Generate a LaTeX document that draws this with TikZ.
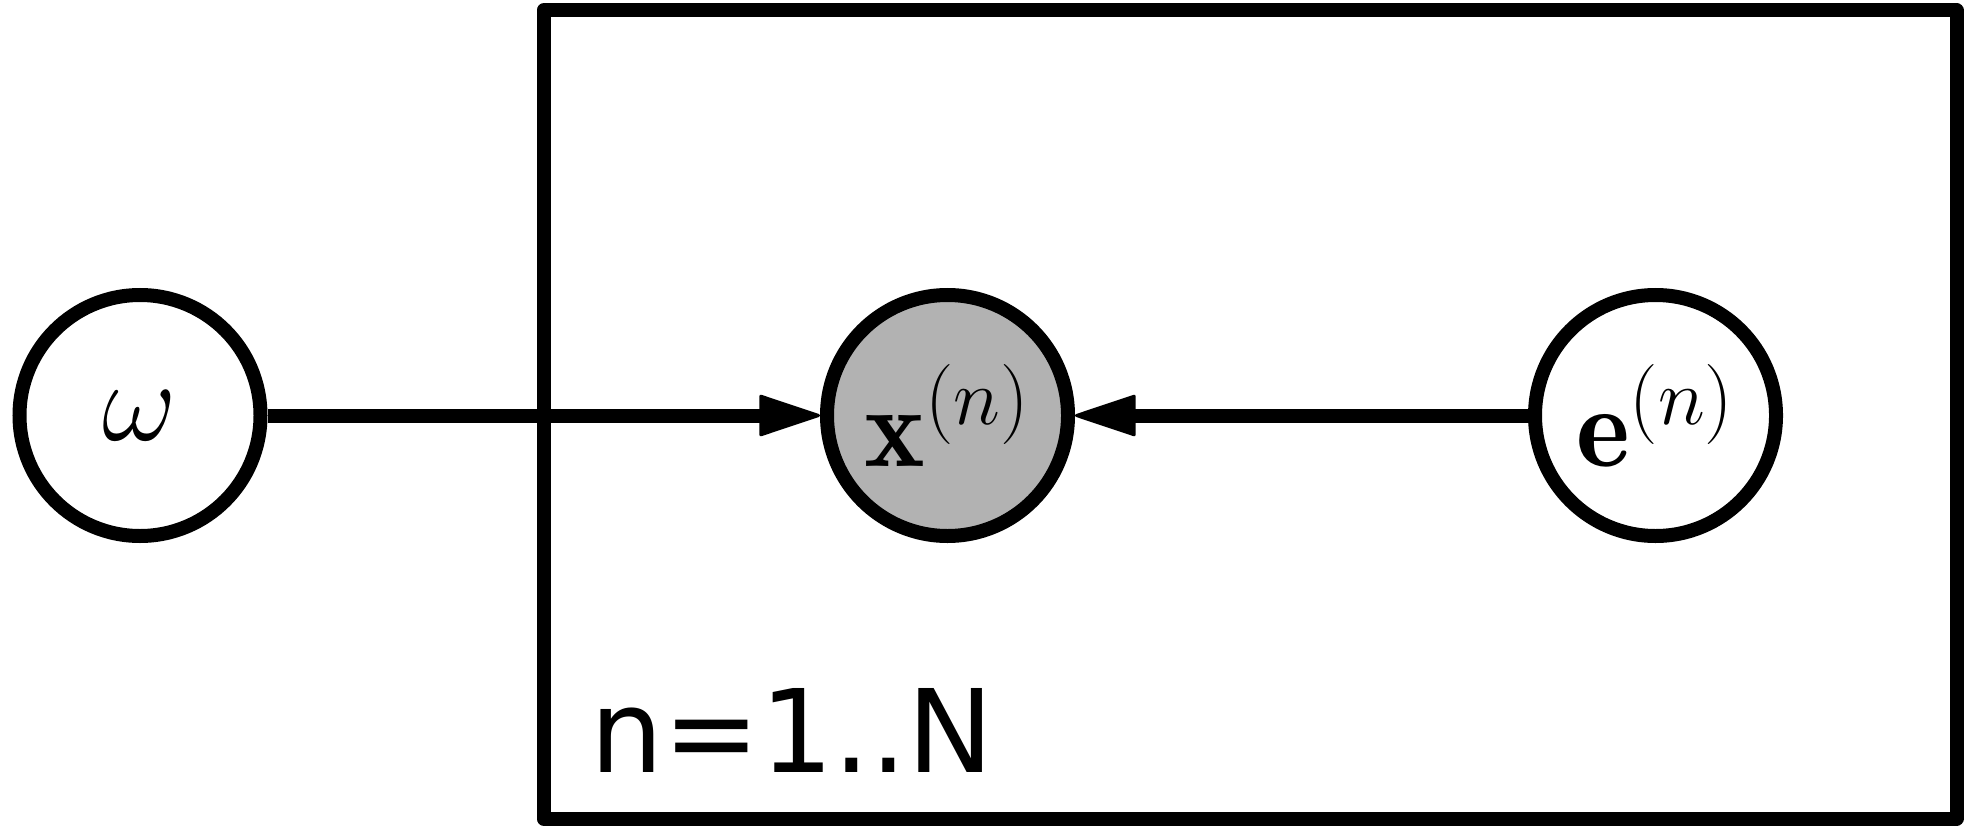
\documentclass[tikz,border=0pt]{standalone}
\usepackage{fix-cm}
\usepackage{amsmath}
\usepackage{fontspec}
\newfontfamily\platefont{DejaVu Sans}
\usetikzlibrary{arrows.meta,positioning}
\definecolor{obsgray}{gray}{0.7}
\newcommand{\supn}{\text{\fontsize{22.8}{27}\selectfont$(n)$}}

\tikzset{
  latent/.style={circle,draw,line width=0.14cm,fill=white,minimum size=2.41cm,inner sep=0pt,font=\fontsize{32.7}{40}\selectfont},
  observed/.style={latent,fill=obsgray},
  edge/.style={line width=0.14cm,-{Triangle[length=0.64cm,width=0.42cm,line width=0.03cm,round]}},
  plate/.style={draw,line width=0.14cm,line join=round,minimum width=14.13cm,minimum height=8.08cm,inner sep=0pt}
}

\begin{document}
\begin{tikzpicture}
\useasboundingbox (0,0) rectangle (19.75,8.25);
\node[plate] (plate) at (12.5,4.105) {};
\node[anchor=base west,inner sep=0pt,font=\platefont\fontsize{32.8}{40}\selectfont] (platelabel) at (5.90,0.53) {n=1..N};
\node[latent] (omega) at (1.40,4.095) {$\omega$};
\node[observed] (x) at (9.475,4.095) {$\mathbf{x}^{\supn}$};
\node[latent] (e) at (16.555,4.095) {$\mathbf{e}^{\supn}$};
\draw[edge] (omega) -- (x);
\draw[edge] (e) -- (x);
\end{tikzpicture}
\end{document}
